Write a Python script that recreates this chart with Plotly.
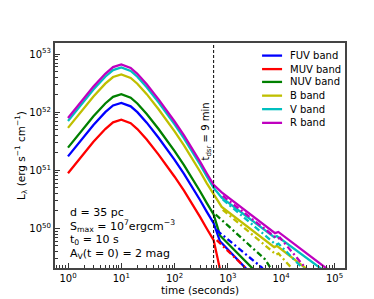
import plotly.graph_objects as go

# ---------------- data (log10 of L_lambda, erg s^-1 cm^-1) ----------------
bands = ["FUV band", "MUV band", "NUV band", "B band", "V band", "R band"]
colors = ["#0000ff", "#ff0000", "#008000", "#bfbf00", "#00bfbf", "#bf00bf"]

t_pre = [1, 1.5, 2, 3, 5, 7, 10, 15, 20, 30, 50, 70, 100, 150, 200, 300, 400, 540]
pre_FUV = [51.24, 51.44, 51.58, 51.78, 52.00, 52.115, 52.16, 52.10, 52.00, 51.82, 51.56, 51.38, 51.18, 50.94, 50.76, 50.49, 50.29, 50.09]
pre_MUV = [50.95, 51.15, 51.29, 51.49, 51.71, 51.825, 51.87, 51.81, 51.71, 51.53, 51.27, 51.09, 50.89, 50.65, 50.47, 50.20, 50.00, 49.80]
pre_NUV = [51.39, 51.59, 51.73, 51.93, 52.15, 52.265, 52.31, 52.25, 52.15, 51.97, 51.71, 51.53, 51.33, 51.09, 50.91, 50.64, 50.44, 50.24]
pre_B = [51.73, 51.93, 52.07, 52.27, 52.49, 52.605, 52.65, 52.59, 52.49, 52.31, 52.05, 51.87, 51.67, 51.43, 51.25, 50.98, 50.78, 50.58]
pre_V = [51.85, 52.05, 52.19, 52.39, 52.61, 52.725, 52.77, 52.71, 52.61, 52.43, 52.17, 51.99, 51.79, 51.55, 51.37, 51.10, 50.90, 50.70]
pre_R = [51.90, 52.10, 52.24, 52.44, 52.66, 52.775, 52.82, 52.76, 52.66, 52.48, 52.22, 52.04, 51.84, 51.60, 51.42, 51.15, 50.95, 50.75]

# after disruption: solid branch (time, logL)
post_t_FUV = [540, 710, 2100, 4600]
post_FUV = [50.09, 49.78, 49.33, 49.00]
post_t_MUV = [540, 710, 760]
post_MUV = [49.80, 49.30, 48.90]
post_t_NUV = [540, 710, 2800, 6300]
post_NUV = [50.24, 49.88, 49.33, 49.00]
post_t_B = [540, 765, 7400, 8300, 27500, 80000]
post_B = [50.58, 50.37, 49.68, 49.70, 49.33, 49.00]
post_t_V = [540, 765, 7400, 8300, 53500, 160000]
post_V = [50.70, 50.53, 49.85, 49.87, 49.33, 49.00]
post_t_R = [540, 765, 7660, 8830, 66400, 200000]
post_R = [50.75, 50.62, 49.92, 49.94, 49.33, 49.00]

# after disruption: dash-dot branch (time, logL)
dd_t_FUV = [617, 4300, 8000]
dd_FUV = [49.97, 49.33, 49.00]
dd_t_MUV = [617, 2100, 3500]
dd_MUV = [49.80, 49.33, 49.00]
dd_t_NUV = [590, 4960, 6200, 9000]
dd_NUV = [50.24, 49.47, 49.33, 49.00]
dd_t_B = [800, 8000, 8900, 15300, 40000]
dd_B = [50.32, 49.55, 49.57, 49.33, 49.00]
dd_t_V = [800, 8000, 8900, 24300, 60000]
dd_V = [50.50, 49.72, 49.74, 49.33, 49.00]
dd_t_R = [800, 8500, 9500, 28000, 70000]
dd_R = [50.56, 49.82, 49.84, 49.33, 49.00]

t_dsr = 540
x_ticks = [1, 10, 100, 1000, 10000, 100000]
x_ticktext = ["10<sup>0</sup>", "10<sup>1</sup>", "10<sup>2</sup>", "10<sup>3</sup>", "10<sup>4</sup>", "10<sup>5</sup>"]
y_ticks = [1e50, 1e51, 1e52, 1e53]
y_ticktext = ["10<sup>50</sup>", "10<sup>51</sup>", "10<sup>52</sup>", "10<sup>53</sup>"]

pre = [pre_FUV, pre_MUV, pre_NUV, pre_B, pre_V, pre_R]
post_t = [post_t_FUV, post_t_MUV, post_t_NUV, post_t_B, post_t_V, post_t_R]
post = [post_FUV, post_MUV, post_NUV, post_B, post_V, post_R]
dd_t = [dd_t_FUV, dd_t_MUV, dd_t_NUV, dd_t_B, dd_t_V, dd_t_R]
dd = [dd_FUV, dd_MUV, dd_NUV, dd_B, dd_V, dd_R]

FONT = "DejaVu Sans"
LW = 2.3
fig = go.Figure()

for i in range(len(bands)):
    xs = t_pre + post_t[i][1:]
    ys = [10.0 ** v for v in pre[i] + post[i][1:]]
    fig.add_trace(go.Scatter(x=xs, y=ys, mode="lines", name=bands[i],
                             line=dict(color=colors[i], width=LW),
                             showlegend=False))
for i in range(len(bands)):
    fig.add_trace(go.Scatter(x=dd_t[i], y=[10.0 ** v for v in dd[i]], mode="lines",
                             name=bands[i] + " (dash-dot)",
                             line=dict(color=colors[i], width=LW, dash="6px,3px,2px,3px"),
                             showlegend=False))

# compact legend (matplotlib-like spacing), upper right inside the axes
leg_y = [0.944, 0.884, 0.827, 0.766, 0.706, 0.645]
for i in range(len(bands)):
    fig.add_shape(type="line", xref="paper", yref="paper", x0=0.714, x1=0.783,
                  y0=leg_y[i], y1=leg_y[i], line=dict(color=colors[i], width=LW))
    fig.add_annotation(x=0.805, y=leg_y[i], xref="paper", yref="paper", text=bands[i],
                       xanchor="left", yanchor="middle", showarrow=False,
                       font=dict(family=FONT, size=10, color="black"))

# disruption time
fig.add_shape(type="line", x0=t_dsr, x1=t_dsr, y0=0, y1=1, xref="x", yref="paper",
              line=dict(color="black", width=1, dash="3px,2px"))
fig.add_annotation(x=2.732, y=0.605, xref="x", yref="paper", xshift=-7,
                   text="t<sub>dsr</sub> = 9 min", textangle=-90, showarrow=False,
                   font=dict(family=FONT, size=10, color="black"))

# parameter text
params = ["d = 35 pc",
          "S<sub>max</sub> = 10<sup>7</sup>ergcm<sup>\u22123</sup>",
          "t<sub>0</sub> = 10 s",
          "A<sub>V</sub>(t = 0) = 2 mag"]
ypos = [0.247, 0.188, 0.124, 0.063]
for txt, yy in zip(params, ypos):
    fig.add_annotation(x=0.045, y=yy, xref="paper", yref="paper", text=txt,
                       xanchor="left", yanchor="middle", showarrow=False,
                       font=dict(family=FONT, size=11, color="black"))

minor_x = [m * 10.0 ** e for e in range(-1, 6) for m in range(2, 10)]
minor_y = [m * 10.0 ** e for e in range(49, 54) for m in range(2, 10)]

fig.update_xaxes(type="log", range=[-0.244, 5.197], tickvals=x_ticks, ticktext=x_ticktext,
                 ticks="inside", ticklen=5, tickwidth=1, tickcolor="#333",
                 minor=dict(tickvals=minor_x, ticks="inside", ticklen=3, tickcolor="#333", showgrid=False),
                 showline=True, linecolor="#444", linewidth=2, mirror=True,
                 showgrid=False, zeroline=False,
                 title=dict(text="time (seconds)", font=dict(family=FONT, size=10.5, color="black"), standoff=4),
                 tickfont=dict(family=FONT, size=10, color="black"))
fig.update_yaxes(type="log", range=[49.32, 53.19], tickvals=y_ticks, ticktext=y_ticktext,
                 ticks="inside", ticklen=5, tickwidth=1, tickcolor="#333",
                 minor=dict(tickvals=minor_y, ticks="inside", ticklen=3, tickcolor="#333", showgrid=False),
                 showline=True, linecolor="#444", linewidth=2, mirror=True,
                 showgrid=False, zeroline=False,
                 title=dict(text="L<sub>\u03bb</sub> (erg s<sup>\u22121</sup> cm<sup>\u22121</sup>)",
                            font=dict(family=FONT, size=10.5, color="black"), standoff=2),
                 tickfont=dict(family=FONT, size=10, color="black"))

fig.update_layout(width=374, height=299, margin=dict(l=47, r=37, t=35, b=33),
                  paper_bgcolor="white", plot_bgcolor="white",
                  font=dict(family=FONT, size=10, color="black"),
                  showlegend=False)

fig.write_html("out.html")
